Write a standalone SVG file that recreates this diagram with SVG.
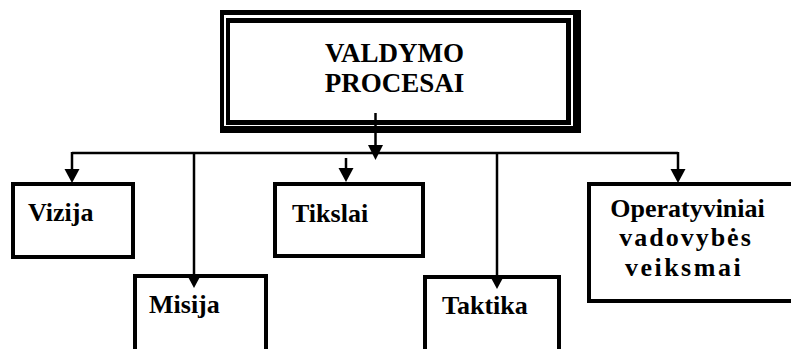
<svg xmlns="http://www.w3.org/2000/svg" width="791" height="349" viewBox="0 0 791 349">
<style>
.box{fill:#fff;stroke:#000;stroke-width:4}
.t{font-family:"Liberation Serif","DejaVu Serif",serif;font-weight:bold;font-size:26px;fill:#000}
.title{font-size:27px}
.c{fill:none;stroke:#000;stroke-width:2.5}
</style>
<rect width="791" height="349" fill="#fff"/>
<g id="valdymo">
<rect x="220" y="10" width="361" height="123" fill="#000"/>
<rect x="224" y="15" width="349" height="111" fill="#fff"/>
<rect x="226" y="18" width="345" height="107" fill="#000"/>
<rect x="230" y="23" width="336" height="97" fill="#fff"/>
<text class="t title" x="394.5" y="62" text-anchor="middle">VALDYMO</text>
<text class="t title" x="394.5" y="92" text-anchor="middle">PROCESAI</text>
</g>
<g id="vizija">
<rect class="box" x="13" y="184" width="120" height="73"/>
<text class="t" x="28" y="221">Vizija</text>
</g>
<g id="tikslai">
<rect class="box" x="275" y="184" width="148" height="72"/>
<text class="t" x="292" y="222">Tikslai</text>
</g>
<g id="misija">
<rect class="box" x="135" y="276" width="131" height="90"/>
<text class="t" x="149" y="313">Misija</text>
</g>
<g id="taktika">
<rect class="box" x="425" y="277" width="134" height="90"/>
<text class="t" x="442" y="314">Taktika</text>
</g>
<g id="operatyviniai">
<rect class="box" x="589" y="184" width="215" height="117"/>
<text class="t" text-anchor="middle"><tspan x="687.5" y="217">Operatyviniai</tspan><tspan x="686" y="246" letter-spacing="2">vadovybės</tspan><tspan x="684" y="276" letter-spacing="2.5">veiksmai</tspan></text>
</g>
<g id="connectors">
<line class="c" x1="72" y1="153" x2="678" y2="153"/>
<line class="c" x1="375.5" y1="113" x2="375.5" y2="146"/>
<path d="M368,145 L383,145 L375.5,160 Z" fill="#000"/>
<line class="c" x1="72" y1="152" x2="72" y2="170"/>
<path d="M64.5,169 L79.5,169 L72,183 Z" fill="#000"/>
<line class="c" x1="346" y1="158" x2="346" y2="169"/>
<path d="M338.5,168 L353.5,168 L346,182 Z" fill="#000"/>
<line class="c" x1="194" y1="152" x2="194" y2="275"/>
<path d="M186.5,274 L201.5,274 L194,288 Z" fill="#000"/>
<line class="c" x1="497" y1="152" x2="497" y2="276"/>
<path d="M489.5,275 L504.5,275 L497,289 Z" fill="#000"/>
<line class="c" x1="678" y1="152" x2="678" y2="170"/>
<path d="M670.5,169 L685.5,169 L678,183 Z" fill="#000"/>
</g>
</svg>
